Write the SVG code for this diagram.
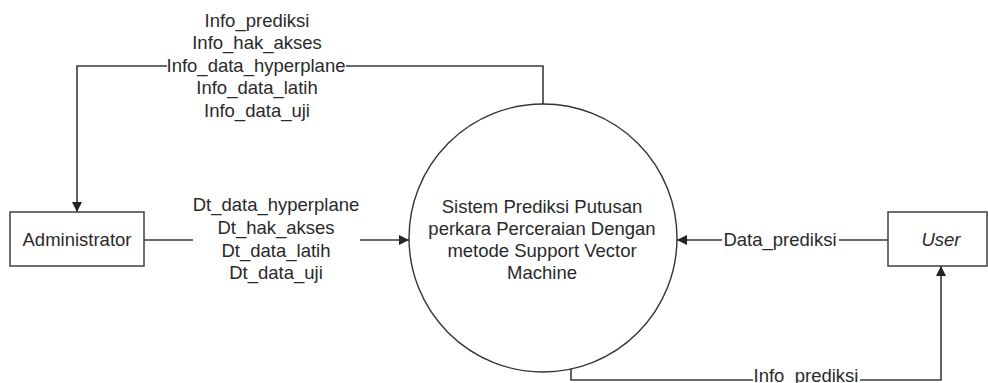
<svg xmlns="http://www.w3.org/2000/svg" width="988" height="383" viewBox="0 0 988 383">
<style>
  .shape { fill: #ffffff; stroke: #333333; stroke-width: 1.4; }
  .conn { fill: none; stroke: #3a3a3a; stroke-width: 1.6; }
  text { font-family: "Liberation Sans", Arial, sans-serif; font-size: 18.5px; fill: #2a2a2a; text-anchor: middle; }
</style>
<defs>
  <marker id="arrow" viewBox="0 0 10 10" refX="10" refY="5" markerWidth="10" markerHeight="10" markerUnits="userSpaceOnUse" orient="auto">
    <path d="M0,0 L10,5 L0,10 z" fill="#222222"/>
  </marker>
</defs>
<rect x="0" y="0" width="988" height="383" fill="#ffffff"/>

<g id="connectors">
  <path class="conn" d="M543,104 L543,66 L346,66"/>
  <path class="conn" d="M167,66 L77,66 L77,212" marker-end="url(#arrow)"/>
  <path class="conn" d="M144,240 L193,240"/>
  <path class="conn" d="M360,240 L409,240" marker-end="url(#arrow)"/>
  <path class="conn" d="M888,240 L839,240"/>
  <path class="conn" d="M722,240 L677,240" marker-end="url(#arrow)"/>
  <path class="conn" d="M571,369 L571,380 L753,380"/>
  <path class="conn" d="M860,380 L941,380 L941,266" marker-end="url(#arrow)"/>
  <g id="label-info-admin">
    <text x="257" y="27">Info_prediksi</text>
    <text x="257" y="49">Info_hak_akses</text>
    <text x="256" y="72">Info_data_hyperplane</text>
    <text x="257" y="94">Info_data_latih</text>
    <text x="257" y="117">Info_data_uji</text>
  </g>
  <g id="label-dt-admin">
    <text x="276" y="211">Dt_data_hyperplane</text>
    <text x="276" y="234">Dt_hak_akses</text>
    <text x="276" y="257">Dt_data_latih</text>
    <text x="276" y="279">Dt_data_uji</text>
  </g>
  <text id="label-data-prediksi" x="780" y="246">Data_prediksi</text>
  <text id="label-info-prediksi" x="806" y="382">Info_prediksi</text>
</g>

<g id="administrator">
  <rect class="shape" x="10" y="212" width="134" height="54"/>
  <text x="77" y="246">Administrator</text>
</g>

<g id="process">
  <circle class="shape" cx="543" cy="238" r="134"/>
  <text x="542" y="213">Sistem Prediksi Putusan</text>
  <text x="542" y="235">perkara Perceraian Dengan</text>
  <text x="542" y="257">metode Support Vector</text>
  <text x="542" y="279">Machine</text>
</g>

<g id="user">
  <rect class="shape" x="888" y="212" width="99" height="54"/>
  <text x="941" y="246" font-style="italic">User</text>
</g>
</svg>
